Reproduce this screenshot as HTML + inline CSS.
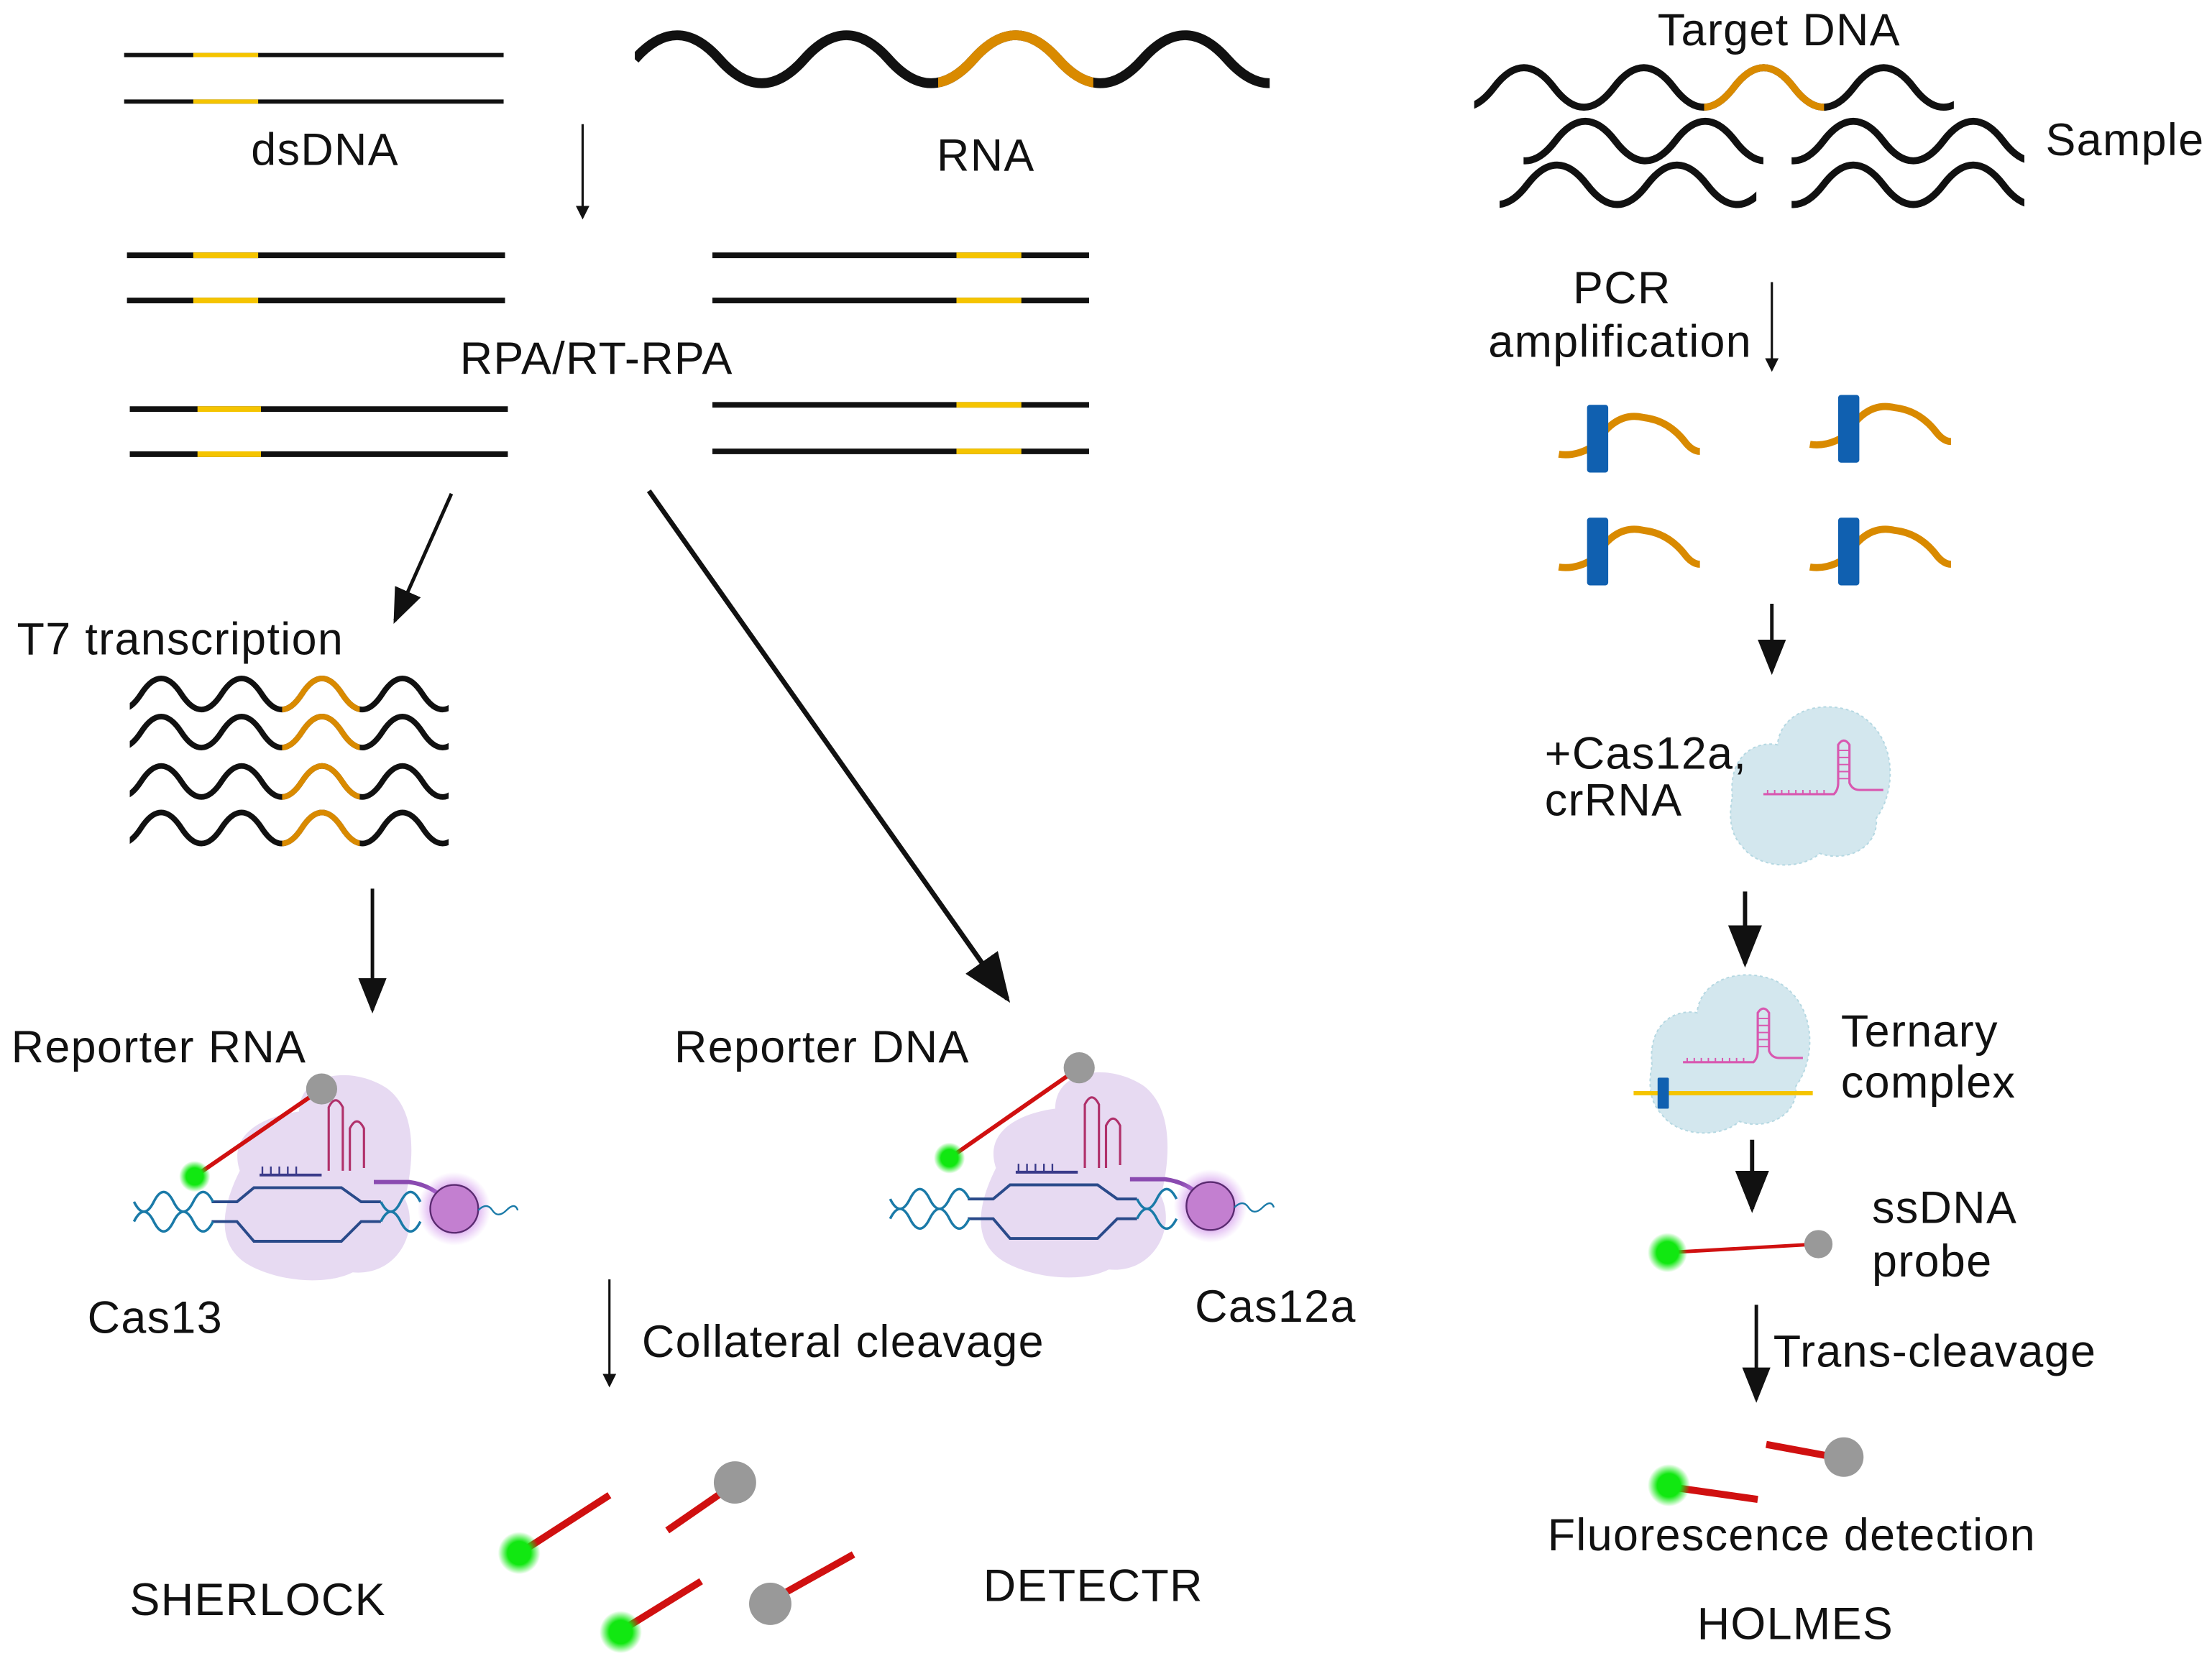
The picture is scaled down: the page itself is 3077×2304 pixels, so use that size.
<!DOCTYPE html>
<html><head><meta charset="utf-8"><style>
html,body{margin:0;padding:0;background:#fff;}
svg{display:block;}
text{font-family:"Liberation Sans",sans-serif;fill:#111;font-size:32px;letter-spacing:0.7px;}
</style></head><body>
<svg width="3077" height="2304" viewBox="0 0 1568 1174" preserveAspectRatio="none" xmlns="http://www.w3.org/2000/svg">
<defs>
<marker id="ah" markerWidth="6" markerHeight="6" refX="5" refY="3" orient="auto" markerUnits="strokeWidth"><path d="M0,0 L6,3 L0,6 z" fill="#111"/></marker>
<marker id="ahs" markerWidth="10" markerHeight="10" refX="9" refY="5" orient="auto" markerUnits="strokeWidth"><path d="M0,1 L10,5 L0,9 z" fill="#111"/></marker>
<radialGradient id="gg"><stop offset="0.55" stop-color="#11e811"/><stop offset="1" stop-color="#11e811" stop-opacity="0"/></radialGradient>
<radialGradient id="pg"><stop offset="0.6" stop-color="#c070e0" stop-opacity="0.6"/><stop offset="1" stop-color="#d090f0" stop-opacity="0"/></radialGradient>
<clipPath id="cr"><rect x="450" y="0" width="450" height="90"/></clipPath>
<clipPath id="c1"><rect x="665" y="0" width="110" height="90"/></clipPath>
<clipPath id="t7"><rect x="92" y="460" width="226" height="150"/></clipPath>
<clipPath id="c3"><rect x="200" y="460" width="55" height="150"/></clipPath>
<clipPath id="s1"><rect x="1045" y="30" width="340" height="60"/></clipPath>
<clipPath id="c2"><rect x="1208" y="30" width="85" height="60"/></clipPath>
<clipPath id="s2l"><rect x="1080" y="75" width="170" height="90"/></clipPath>
<clipPath id="s2r"><rect x="1270" y="75" width="165" height="90"/></clipPath>
<clipPath id="s3l"><rect x="1063" y="100" width="182" height="60"/></clipPath>
</defs>
<rect width="1568" height="1174" fill="#fff"/>

<g stroke-width="3">
<line x1="88" y1="39" x2="357" y2="39" stroke="#111"/><line x1="137" y1="39" x2="183" y2="39" stroke="#f5c400"/>
<line x1="88" y1="72" x2="357" y2="72" stroke="#111"/><line x1="137" y1="72" x2="183" y2="72" stroke="#f5c400"/>
</g>
<text x="178" y="117">dsDNA</text>
<g fill="none" stroke-width="7">
<path d="M450,42 q30,-34 60,0 t60,0 t60,0 t60,0 t60,0 t60,0 t60,0 t60,0" stroke="#111" clip-path="url(#cr)"/>
<path d="M450,42 q30,-34 60,0 t60,0 t60,0 t60,0 t60,0 t60,0 t60,0 t60,0" stroke="#d98a00" clip-path="url(#c1)"/>
</g>
<text x="664" y="121">RNA</text>
<line x1="413" y1="88" x2="413" y2="154" stroke="#111" stroke-width="1.6" marker-end="url(#ah)"/>

<g stroke-width="4">
<line x1="90" y1="181" x2="358" y2="181" stroke="#111"/><line x1="137" y1="181" x2="183" y2="181" stroke="#f5c400"/>
<line x1="90" y1="213" x2="358" y2="213" stroke="#111"/><line x1="137" y1="213" x2="183" y2="213" stroke="#f5c400"/>
<line x1="505" y1="181" x2="772" y2="181" stroke="#111"/><line x1="678" y1="181" x2="724" y2="181" stroke="#f5c400"/>
<line x1="505" y1="213" x2="772" y2="213" stroke="#111"/><line x1="678" y1="213" x2="724" y2="213" stroke="#f5c400"/>
<line x1="92" y1="290" x2="360" y2="290" stroke="#111"/><line x1="140" y1="290" x2="185" y2="290" stroke="#f5c400"/>
<line x1="92" y1="322" x2="360" y2="322" stroke="#111"/><line x1="140" y1="322" x2="185" y2="322" stroke="#f5c400"/>
<line x1="505" y1="287" x2="772" y2="287" stroke="#111"/><line x1="678" y1="287" x2="724" y2="287" stroke="#f5c400"/>
<line x1="505" y1="320" x2="772" y2="320" stroke="#111"/><line x1="678" y1="320" x2="724" y2="320" stroke="#f5c400"/>
</g>
<text x="326" y="265">RPA/RT-RPA</text>

<line x1="320" y1="350" x2="280" y2="440" stroke="#111" stroke-width="2.5" marker-end="url(#ahs)"/>
<line x1="460" y1="348" x2="714" y2="708" stroke="#111" stroke-width="3.5" marker-end="url(#ahs)"/>
<text x="12" y="464">T7 transcription</text>

<g fill="none" stroke-width="4">
<g id="w1"><path d="M71.5,492 q14.25,22 28.5,0 t28.5,0 t28.5,0 t28.5,0 t28.5,0 t28.5,0 t28.5,0 t28.5,0 t28.5,0 t28.5,0" stroke="#111" clip-path="url(#t7)"/><path d="M71.5,492 q14.25,22 28.5,0 t28.5,0 t28.5,0 t28.5,0 t28.5,0 t28.5,0 t28.5,0 t28.5,0 t28.5,0 t28.5,0" stroke="#d98a00" clip-path="url(#c3)"/></g>
<use href="#w1" y="27"/><use href="#w1" y="62"/><use href="#w1" y="95"/>
</g>
<line x1="264" y1="630" x2="264" y2="716" stroke="#111" stroke-width="2.5" marker-end="url(#ahs)"/>
<text x="8" y="753">Reporter RNA</text>
<text x="478" y="753">Reporter DNA</text>

<g id="cas">
<path d="M170,830 C160,800 195,790 212,788 C212,760 250,755 275,772 C298,790 292,830 287,850 C298,872 282,905 250,902 C230,912 195,908 175,896 C150,880 160,850 170,830z" fill="#e4d6f1" opacity="0.9"/>
<path d="M233,830 L233,785 Q238,775 243,785 L243,830 M248,830 L248,800 Q253,790 258,800 L258,828" fill="none" stroke="#b0306a" stroke-width="1.6"/>
<line x1="184" y1="833" x2="228" y2="833" stroke="#3a3a8a" stroke-width="2"/>
<path d="M186,833 v-6 M192,833 v-6 M198,833 v-6 M204,833 v-6 M210,833 v-6" stroke="#3a3a8a" stroke-width="1.2"/>
<path d="M150,852 L168,852 L180,842 L242,842 L256,852 L270,852 M150,866 L168,866 L180,880 L242,880 L256,866 L270,866" fill="none" stroke="#2a4a8a" stroke-width="2"/>
<path d="M95,852 q7,14 14,0 t14,0 t14,0 t14,0 M95,866 q7,-14 14,0 t14,0 t14,0 t14,0 M270,852 q7,14 14,0 t14,0 M270,866 q7,-14 14,0 t14,0" fill="none" stroke="#1a7aa8" stroke-width="1.8"/>
<path d="M265,838 L290,838 Q305,840 315,850" fill="none" stroke="#8a4ab0" stroke-width="3"/>
<circle cx="322" cy="857" r="26" fill="url(#pg)"/>
<circle cx="322" cy="857" r="17" fill="#c37fd0" stroke="#5a2a70" stroke-width="1.2"/>
<path d="M339,858 q6,-6 10,0 t10,0 t8,0" fill="none" stroke="#1a7aa8" stroke-width="1.2"/>
</g>
<use href="#cas" x="536" y="-2"/>
<line x1="138" y1="834" x2="228" y2="772" stroke="#d01010" stroke-width="3"/>
<circle cx="138" cy="834" r="11" fill="url(#gg)"/><circle cx="228" cy="772" r="11" fill="#999"/>
<line x1="673" y1="821" x2="765" y2="757" stroke="#d01010" stroke-width="3"/>
<circle cx="673" cy="821" r="11" fill="url(#gg)"/><circle cx="765" cy="757" r="11" fill="#999"/>
<text x="62" y="945">Cas13</text>
<text x="847" y="937">Cas12a</text>

<line x1="432" y1="907" x2="432" y2="982" stroke="#111" stroke-width="1.6" marker-end="url(#ah)"/>
<text x="455" y="962">Collateral cleavage</text>

<g stroke="#d01010" stroke-width="5">
<line x1="370" y1="1100" x2="432" y2="1060"/><line x1="473" y1="1085" x2="512" y2="1058"/>
<line x1="442" y1="1155" x2="497" y2="1121"/><line x1="555" y1="1130" x2="605" y2="1102"/>
</g>
<circle cx="368" cy="1101" r="15" fill="url(#gg)"/><circle cx="440" cy="1157" r="15" fill="url(#gg)"/>
<circle cx="521" cy="1051" r="15" fill="#999"/><circle cx="546" cy="1137" r="15" fill="#999"/>
<text x="92" y="1145">SHERLOCK</text>
<text x="697" y="1135">DETECTR</text>

<text x="1175" y="32">Target DNA</text>
<g fill="none" stroke-width="5" stroke="#111">
<path d="M1016.5,62 q21.25,28 42.5,0 t42.5,0 t42.5,0 t42.5,0 t42.5,0 t42.5,0 t42.5,0 t42.5,0 t42.5,0" clip-path="url(#s1)"/>
<path d="M1016.5,62 q21.25,28 42.5,0 t42.5,0 t42.5,0 t42.5,0 t42.5,0 t42.5,0 t42.5,0 t42.5,0 t42.5,0" stroke="#d98a00" clip-path="url(#c2)"/>
<path d="M1060,100 q21.25,28 42.5,0 t42.5,0 t42.5,0 t42.5,0 t42.5,0" clip-path="url(#s2l)"/>
<path d="M1250,100 q21.25,28 42.5,0 t42.5,0 t42.5,0 t42.5,0 t42.5,0" clip-path="url(#s2r)"/>
<path d="M1040,131 q21.25,28 42.5,0 t42.5,0 t42.5,0 t42.5,0 t42.5,0" clip-path="url(#s3l)"/>
<path d="M1250,131 q21.25,28 42.5,0 t42.5,0 t42.5,0 t42.5,0 t42.5,0" clip-path="url(#s2r)"/>
</g>
<text x="1450" y="110">Sample</text>
<text x="1115" y="215">PCR</text>
<text x="1055" y="253">amplification</text>
<line x1="1256" y1="200" x2="1256" y2="262" stroke="#111" stroke-width="1.6" marker-end="url(#ah)"/>

<g id="amp">
<path d="M1105,322 q12,2 25,-6 q15,-25 35,-20 q18,2 30,18 q5,6 10,6" fill="none" stroke="#d98a00" stroke-width="5"/>
<rect x="1125" y="287" width="15" height="48" rx="2" fill="#1060b0"/>
</g>
<use href="#amp" x="178" y="-7"/>
<use href="#amp" x="0" y="80"/>
<use href="#amp" x="178" y="80"/>

<line x1="1256" y1="428" x2="1256" y2="476" stroke="#111" stroke-width="2.5" marker-end="url(#ahs)"/>
<g id="c12">
<path d="M1228,565 C1225,535 1245,525 1260,528 C1262,505 1290,495 1315,505 C1345,520 1345,560 1330,580 C1332,600 1310,612 1290,605 C1275,618 1245,615 1235,600 C1225,590 1226,575 1228,565z" fill="#d3e7ee" stroke="#b5d8e2" stroke-width="1" stroke-dasharray="2,2"/>
<path d="M1250,563 L1300,563 Q1303,560 1303,555 L1303,528 Q1307,522 1311,528 L1311,555 Q1313,560 1318,560 L1335,560" fill="none" stroke="#d858b0" stroke-width="1.6"/>
<path d="M1253,563 v-3 M1258,563 v-3 M1263,563 v-3 M1268,563 v-3 M1273,563 v-3 M1278,563 v-3 M1283,563 v-3 M1288,563 v-3 M1293,563 v-3 M1303,532 h8 M1303,537 h8 M1303,542 h8 M1303,547 h8 M1303,552 h8" stroke="#d858b0" stroke-width="1"/>
</g>
<text x="1095" y="545">+Cas12a,</text>
<text x="1095" y="578">crRNA</text>
<line x1="1237" y1="632" x2="1237" y2="683" stroke="#111" stroke-width="3" marker-end="url(#ahs)"/>
<use href="#c12" x="-57" y="190"/>
<line x1="1158" y1="775" x2="1285" y2="775" stroke="#f5c400" stroke-width="3"/>
<rect x="1175" y="764" width="8" height="22" rx="1" fill="#1060b0"/>
<text x="1305" y="742">Ternary</text>
<text x="1305" y="778">complex</text>

<line x1="1242" y1="808" x2="1242" y2="857" stroke="#111" stroke-width="3" marker-end="url(#ahs)"/>
<line x1="1182" y1="888" x2="1288" y2="882" stroke="#d01010" stroke-width="2.5"/>
<circle cx="1182" cy="888" r="14" fill="url(#gg)"/><circle cx="1289" cy="882" r="10" fill="#999"/>
<text x="1327" y="867">ssDNA</text>
<text x="1327" y="905">probe</text>
<line x1="1245" y1="925" x2="1245" y2="992" stroke="#111" stroke-width="2.5" marker-end="url(#ahs)"/>
<text x="1257" y="969">Trans-cleavage</text>
<line x1="1252" y1="1024" x2="1295" y2="1032" stroke="#d01010" stroke-width="5"/>
<line x1="1190" y1="1055" x2="1246" y2="1063" stroke="#d01010" stroke-width="5"/>
<circle cx="1307" cy="1033" r="14" fill="#999"/><circle cx="1183" cy="1053" r="15" fill="url(#gg)"/>
<text x="1097" y="1099">Fluorescence detection</text>
<text x="1203" y="1162">HOLMES</text>
</svg>
</body></html>
